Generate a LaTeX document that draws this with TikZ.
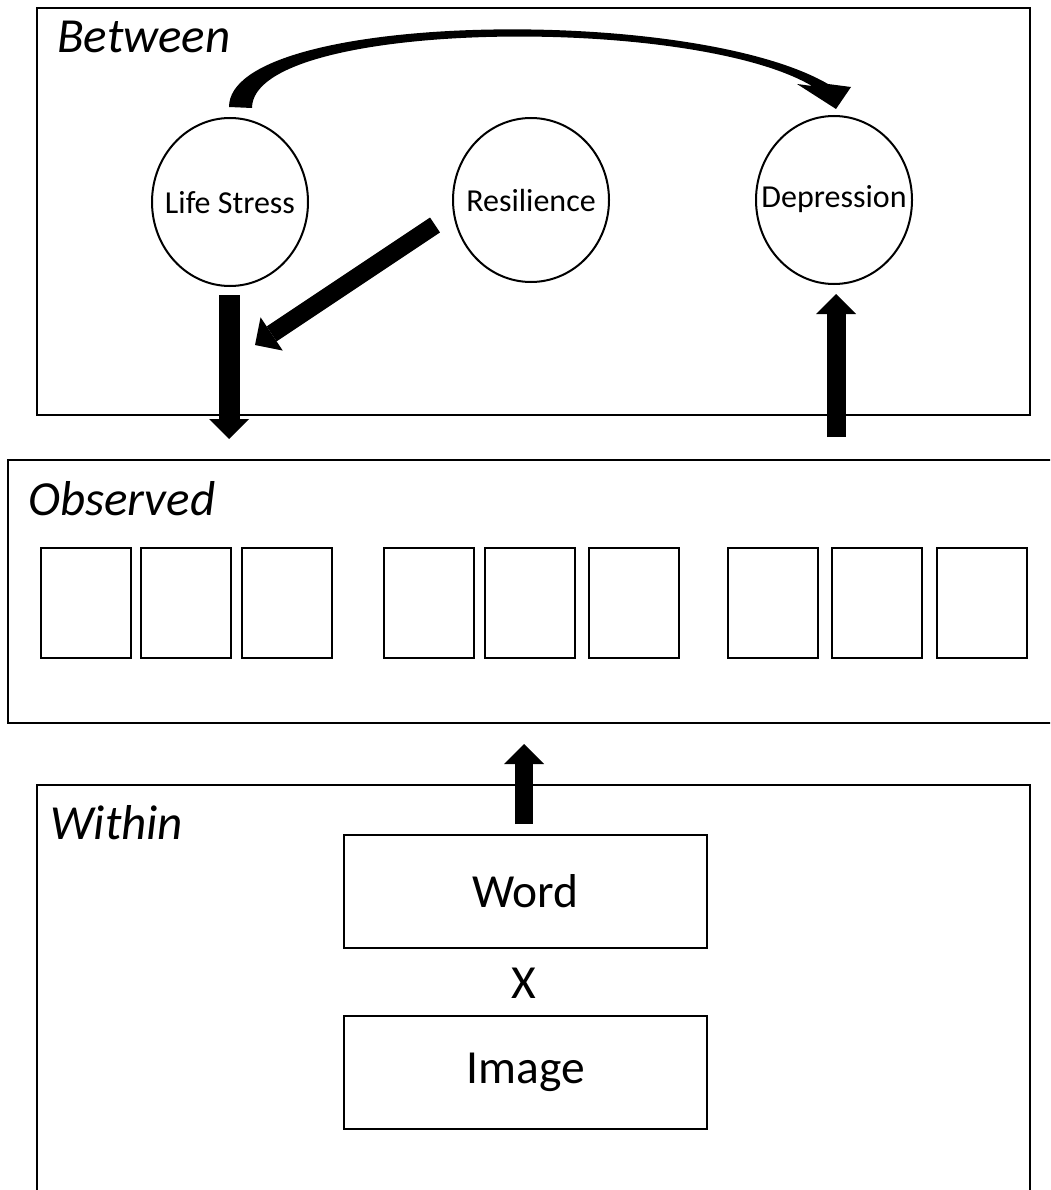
\documentclass[tikz,border=0pt]{standalone}
\usepackage{fontspec}
\setmainfont{Carlito}
\usetikzlibrary{shapes.geometric,arrows.meta,calc}
\begin{document}
\begin{tikzpicture}[x=1pt,y=-1pt,
  panel/.style={draw,line width=2pt,rectangle,inner sep=0pt},
  latent/.style={ellipse,draw,line width=2pt,minimum width=156pt,minimum height=168pt,inner sep=0pt},
  lattext/.style={inner sep=0pt,font=\fontsize{32}{38}\selectfont},
  obsbox/.style={draw,line width=2pt,minimum width=90pt,minimum height=110pt,inner sep=0pt},
  condbox/.style={draw,line width=2pt,minimum width=363pt,minimum height=113pt,inner sep=0pt,font=\fontsize{47.5}{56}\selectfont},
  heading/.style={anchor=base west,inner sep=0pt,font=\fontsize{49}{58}\selectfont\itshape},
  fatarrow/.style={line width=#1,-{Triangle[length=20pt,width=40pt,line width=0pt]}},
]
\useasboundingbox (0,0) rectangle (1050,1190);
\clip (0,0) rectangle (1050,1190);

% panels
\node[panel,minimum width=993pt,minimum height=407pt] (betw) at (533.5,211.5) {};
\node[panel,minimum width=1054pt,minimum height=263pt] (obs) at (535,591.5) {};
\node[panel,minimum width=993pt,minimum height=430pt] (win) at (533.5,1000) {};

\node[heading] (tbetw) at (57,53) {Between};
\node[heading] (tobs) at (28,515) {Observed};
\node[heading] (twin) at (50,839) {Within};

% latent variables
\node[latent] (ls) at (230,202) {};
\node[latent,minimum height=164pt] (res) at (531,200) {};
\node[latent] (dep) at (834,200) {};
\node[lattext] (lst) at (230,203) {Life Stress};
\node[lattext] (rest) at (531,201) {Resilience};
\node[lattext] (dept) at (834,199) {Depression};

% observed indicators
\foreach \i/\x in {1/85.5,2/186,3/287,4/428.5,5/530,6/634,7/772.5,8/877,9/982}
  \node[obsbox] (o\i) at (\x,603) {};

% within
\node[condbox] (word) at (525.5,891.5) {Word};
\node[inner sep=0pt,font=\fontsize{47.5}{56}\selectfont] (times) at (524,983) {X};
\node[condbox] (img) at (525.5,1072) {Image};

% connectors
\coordinate (lsa) at ($(ls.south)+(-1,8)$);
\coordinate (lsb) at ($(ls.south |- obs.north)+(-1,-20)$);
\draw[fatarrow=21pt] (lsa) -- (lsb);

\coordinate (resa) at ($(res.west)+(-17,25)$);
\coordinate (resb) at (255,345);
\draw[fatarrow=18pt] (resa) -- (resb);

\coordinate (depa) at ($(dep.south |- obs.north)+(2,-22)$);
\coordinate (depb) at ($(dep.south)+(2,9)$);
\draw[fatarrow=19pt] (depa) -- (depb);

\coordinate (wina) at ($(word.north)+(-1.5,-10)$);
\coordinate (winb) at ($(wina |- obs.south)+(0,20)$);
\draw[fatarrow=18pt] (wina) -- (winb);

% curved arrow Life Stress -> Depression
\coordinate (ca) at ($(ls.north)+(-1,-10)$);
\coordinate (cb) at ($(dep.north)+(2,-6)$);
\fill (ca) .. controls (229,12) and (690,4) .. (828,84)
  -- (851,87) -- (cb) -- (797,84) -- (812,86)
  .. controls (690,14) and (252,20) .. (252,108) -- cycle;
\end{tikzpicture}
\end{document}
